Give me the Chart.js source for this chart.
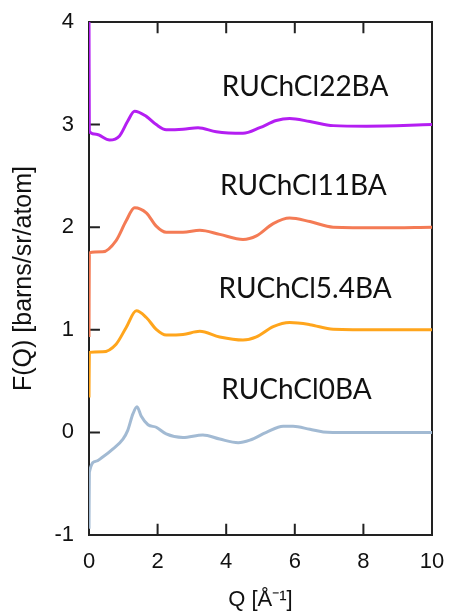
<!DOCTYPE html>
<html>
<head>
<meta charset="utf-8">
<script src="https://cdn.jsdelivr.net/npm/chart.js@4"></script>
<style>
  body { margin: 0; background: #fff; }
  #wrap { width: 451px; height: 616px; }
</style>
</head>
<body>
<div id="wrap"><canvas id="fq"></canvas></div>
<script>
// F(Q) curves (each sample is offset by +1 per series)
const q22 = [0, 0.01, 0.21, 0.6, 0.89, 1.13, 1.33, 1.67, 1.96, 2.25, 2.74, 3.18, 3.71, 4.49, 4.98, 5.46, 5.85, 6.44, 7.12, 8.09, 10];
const f22 = [4.0, 2.93, 2.905, 2.85, 2.89, 3.035, 3.13, 3.08, 3.0, 2.95, 2.955, 2.97, 2.93, 2.915, 2.97, 3.04, 3.06, 3.03, 2.99, 2.985, 3.0];

const q11 = [0, 0.01, 0.4, 0.79, 1.08, 1.33, 1.67, 1.96, 2.25, 2.74, 3.23, 3.81, 4.49, 4.88, 5.37, 5.85, 6.44, 7.12, 8.5, 10];
const f11 = [0.93, 1.75, 1.76, 1.87, 2.06, 2.19, 2.14, 2.01, 1.95, 1.95, 1.97, 1.93, 1.88, 1.915, 2.035, 2.09, 2.055, 2.0, 1.995, 2.0];

const q54 = [0, 0.01, 0.4, 0.79, 1.08, 1.38, 1.67, 1.96, 2.25, 2.74, 3.23, 3.81, 4.49, 4.88, 5.37, 5.85, 6.44, 7.12, 8.5, 10];
const f54 = [0.34, 0.78, 0.785, 0.86, 1.02, 1.185, 1.12, 1.005, 0.95, 0.955, 0.985, 0.93, 0.9, 0.93, 1.03, 1.07, 1.05, 1.005, 1.0, 1.0];

const q0 = [0, 0.01, 0.21, 0.4, 0.7, 0.99, 1.13, 1.28, 1.4, 1.52, 1.72, 1.96, 2.25, 2.74, 3.32, 3.81, 4.35, 4.69, 5.17, 5.66, 5.95, 6.44, 6.83, 7.5, 8.5, 10];
const f0 = [-0.94, -0.39, -0.28, -0.24, -0.16, -0.065, 0.02, 0.18, 0.25, 0.16, 0.075, 0.05, -0.015, -0.05, -0.025, -0.065, -0.1, -0.075, 0, 0.06, 0.06, 0.03, 0.005, 0, 0, 0];

const names = ['RUChCl22BA', 'RUChCl11BA', 'RUChCl5.4BA', 'RUChCl0BA'];
const colors = ['#b41ef2', '#f47b55', '#ffa51c', '#a2bad3'];
// where each sample name sits, in data units
const nameQ = [6.3, 6.25, 6.3, 6.05];
const nameF = [3.37, 2.4, 1.4, 0.41];

const xTicks = [0, 2, 4, 6, 8, 10];
const yTicks = [-1, 0, 1, 2, 3, 4];

const allQ = [q22, q11, q54, q0];
const allF = [f22, f11, f54, f0];

// axis limits and inward tick length (about 10px) in data units
const qMin = 0, qMax = 10, fMin = -1, fMax = 4;
const tickLenQ = 0.29, tickLenF = 0.1;

function pts(qs, fs) {
  return qs.map((q, i) => ({ x: q, y: fs[i] }));
}

// box around the plot, built from the axis limits
const framePts = [
  { x: qMin, y: fMin }, { x: qMax, y: fMin }, { x: qMax, y: fMax },
  { x: qMin, y: fMax }, { x: qMin, y: fMin }
];
// inward tick marks, split by gaps
const tickPts = [];
xTicks.slice(1, -1).forEach(v => {
  tickPts.push({ x: v, y: fMin }, { x: v, y: fMin + tickLenF }, { x: v, y: null });
  tickPts.push({ x: v, y: fMax }, { x: v, y: fMax - tickLenF }, { x: v, y: null });
});
yTicks.slice(1, -1).forEach(v => {
  tickPts.push({ x: qMin, y: v }, { x: qMin + tickLenQ, y: v }, { x: qMin, y: null });
});

const axisLine = {
  borderColor: '#222',
  borderWidth: 2,
  pointRadius: 0,
  tension: 0,
  fill: false,
  clip: false,
  spanGaps: false,
  borderCapStyle: 'square',
  order: 10
};

// sample names inside the plot
const namesPlugin = {
  id: 'names',
  afterDraw(chart) {
    const c = chart.ctx;
    const x = chart.scales.x, y = chart.scales.y;
    c.save();
    c.fillStyle = '#111111';
    c.font = '28px Lato';
    c.textAlign = 'center';
    c.textBaseline = 'middle';
    names.forEach((n, i) => {
      c.fillText(n, x.getPixelForValue(nameQ[i]), y.getPixelForValue(nameF[i]));
    });
    c.restore();
  }
};

const tickFont = { family: 'Liberation Sans', size: 22 };

const datasets = names.map((n, i) => ({
  label: n,
  data: pts(allQ[i], allF[i]),
  borderColor: colors[i],
  borderWidth: 3,
  pointRadius: 0,
  cubicInterpolationMode: 'monotone',
  fill: false,
  order: 1
}));
datasets.push(Object.assign({ label: 'frame', data: framePts }, axisLine));
datasets.push(Object.assign({ label: 'ticks', data: tickPts }, axisLine));

const chart = new Chart(document.getElementById('fq'), {
  type: 'line',
  data: { datasets: datasets },
  options: {
    responsive: true,
    maintainAspectRatio: false,
    animation: false,
    events: [],
    layout: { padding: { top: 22, right: 19, left: 0, bottom: 0 } },
    plugins: { legend: { display: false }, tooltip: { enabled: false } },
    scales: {
      x: {
        type: 'linear',
        min: qMin, max: qMax,
        afterFit: s => { s.height = 81; s.paddingLeft = 0; s.paddingRight = 0; },
        afterBuildTicks: s => { s.ticks = xTicks.map(v => ({ value: v })); },
        grid: { display: false, drawTicks: false },
        border: { display: false },
        ticks: { color: '#111', padding: 14, font: tickFont },
        title: {
          display: true, text: 'Q [Å⁻¹]', color: '#111',
          font: { family: 'Liberation Sans', size: 22 },
          padding: { top: 0, bottom: 3 }
        }
      },
      y: {
        min: fMin, max: fMax,
        afterFit: s => { s.width = 89; s.paddingTop = 0; s.paddingBottom = 0; },
        afterBuildTicks: s => { s.ticks = yTicks.map(v => ({ value: v })); },
        grid: { display: false, drawTicks: false },
        border: { display: false },
        ticks: { color: '#111', padding: 15, font: tickFont },
        title: {
          display: true, text: 'F(Q) [barns/sr/atom]', color: '#111',
          font: { family: 'Liberation Sans', size: 25 },
          padding: { top: 9, bottom: 0 }
        }
      }
    }
  },
  plugins: [namesPlugin]
});
</script>
</body>
</html>
